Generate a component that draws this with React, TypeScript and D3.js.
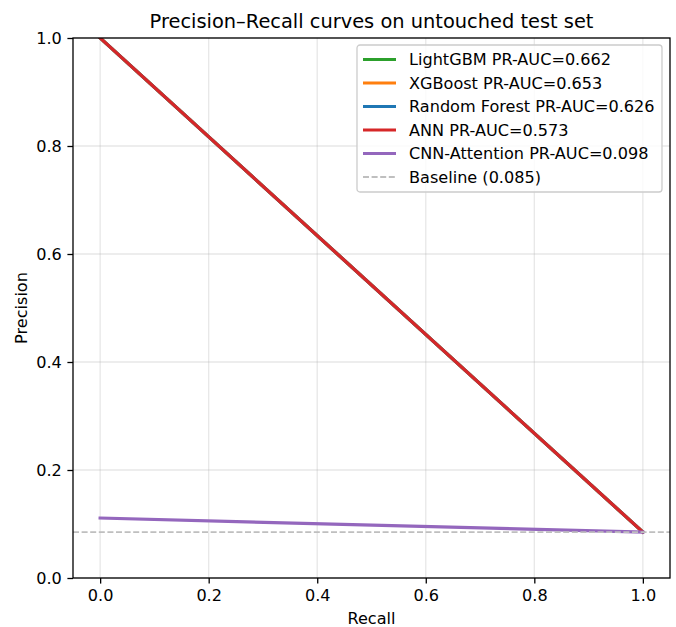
import React, { useEffect, useRef } from 'react';
import * as d3 from 'd3';

// curve points per model (recall, precision)
const recallPts = [0, 1];
const lightgbmPrecision = [1, 0.085];
const xgboostPrecision = [1, 0.085];
const rfPrecision = [1, 0.085];
const annPrecision = [1, 0.085];
const cnnPrecision = [0.111, 0.085];

const modelNames = ['LightGBM', 'XGBoost', 'Random Forest', 'ANN', 'CNN-Attention'];
const prAuc = ['0.662', '0.653', '0.626', '0.573', '0.098'];
const modelColors = ['#2ca02c', '#ff7f0e', '#1f77b4', '#d62728', '#9467bd'];
const baseline = 0.085;

const xTicks = [0, 0.2, 0.4, 0.6, 0.8, 1.0];
const yTicks = [0, 0.2, 0.4, 0.6, 0.8, 1.0];

const W = 676;
const H = 627;
const FONT = 'DejaVu Sans, sans-serif';
const FS = 16.1;

export default function App() {
    const ref = useRef<SVGSVGElement>(null);

    useEffect(() => {
        const svg = d3.select(ref.current);
        svg.selectAll('*').remove();

        const left = 73, right = 670, top = 38, bottom = 578;

        const x = d3.scaleLinear().domain([-0.05, 1.05]).range([left, right]);
        const y = d3.scaleLinear().domain([0, 1]).range([bottom, top]);

        svg.append('rect').attr('width', W).attr('height', H).attr('fill', 'white');

        // grid
        const grid = svg.append('g');
        xTicks.forEach(t => {
            grid.append('line')
                .attr('x1', x(t)).attr('x2', x(t))
                .attr('y1', top).attr('y2', bottom)
                .attr('stroke', '#b0b0b0').attr('stroke-opacity', 0.3).attr('stroke-width', 1.3);
        });
        yTicks.forEach(t => {
            grid.append('line')
                .attr('x1', left).attr('x2', right)
                .attr('y1', y(t)).attr('y2', y(t))
                .attr('stroke', '#b0b0b0').attr('stroke-opacity', 0.3).attr('stroke-width', 1.3);
        });

        const clip = svg.append('clipPath').attr('id', 'plot-clip');
        clip.append('rect').attr('x', left).attr('y', top).attr('width', right - left).attr('height', bottom - top);

        const plot = svg.append('g').attr('clip-path', 'url(#plot-clip)');

        const series = [lightgbmPrecision, xgboostPrecision, rfPrecision, annPrecision, cnnPrecision];
        const line = d3.line<number>()
            .x((_, i) => x(recallPts[i]))
            .y(d => y(d));

        series.forEach((s, i) => {
            plot.append('path')
                .datum(s)
                .attr('fill', 'none')
                .attr('stroke', modelColors[i])
                .attr('stroke-width', 3.2)
                .attr('stroke-linecap', 'square')
                .attr('d', line);
        });

        // baseline
        plot.append('line')
            .attr('x1', left).attr('x2', right)
            .attr('y1', y(baseline)).attr('y2', y(baseline))
            .attr('stroke', '#bfbfbf')
            .attr('stroke-width', 1.8)
            .attr('stroke-dasharray', '6,2.6');

        // axes
        const xAxis = svg.append('g')
            .attr('transform', `translate(0,${bottom})`)
            .call(d3.axisBottom(x).tickValues(xTicks).tickFormat(d3.format('.1f')).tickSize(5.6).tickPadding(5.6));
        const yAxis = svg.append('g')
            .attr('transform', `translate(${left},0)`)
            .call(d3.axisLeft(y).tickValues(yTicks).tickFormat(d3.format('.1f')).tickSize(5.6).tickPadding(5.6));
        [xAxis, yAxis].forEach(a => {
            a.select('.domain').remove();
            a.selectAll('text').attr('font-family', FONT).attr('font-size', FS).attr('fill', 'black');
            a.selectAll('line').attr('stroke', 'black').attr('stroke-width', 1.3);
        });

        svg.append('rect')
            .attr('x', left).attr('y', top)
            .attr('width', right - left).attr('height', bottom - top)
            .attr('fill', 'none').attr('stroke', 'black').attr('stroke-width', 1.3);

        // labels
        svg.append('text')
            .attr('x', (left + right) / 2).attr('y', 28)
            .attr('text-anchor', 'middle')
            .attr('font-family', FONT).attr('font-size', 19.4)
            .text('Precision\u2013Recall curves on untouched test set');
        svg.append('text')
            .attr('x', (left + right) / 2).attr('y', 624)
            .attr('text-anchor', 'middle')
            .attr('font-family', FONT).attr('font-size', FS)
            .text('Recall');
        svg.append('text')
            .attr('transform', `translate(27,${(top + bottom) / 2}) rotate(-90)`)
            .attr('text-anchor', 'middle')
            .attr('font-family', FONT).attr('font-size', FS)
            .text('Precision');

        // legend
        const lg = svg.append('g').attr('transform', 'translate(357,45)');
        lg.append('rect')
            .attr('x', 0).attr('y', 0).attr('width', 305).attr('height', 147)
            .attr('rx', 3)
            .attr('fill', 'white').attr('fill-opacity', 0.8)
            .attr('stroke', '#cccccc').attr('stroke-width', 1.3);
        const items = modelNames.map((n, i) => ({ label: `${n} PR-AUC=${prAuc[i]}`, color: modelColors[i], dash: false }));
        items.push({ label: `Baseline (${baseline.toFixed(3)})`, color: '#bfbfbf', dash: true });
        items.forEach((it, i) => {
            const cy = 14.5 + i * 23.5;
            lg.append('line')
                .attr('x1', 6).attr('x2', 39)
                .attr('y1', cy).attr('y2', cy)
                .attr('stroke', it.color)
                .attr('stroke-width', it.dash ? 1.8 : 3.2)
                .attr('stroke-dasharray', it.dash ? '6,2.6' : null);
            lg.append('text')
                .attr('x', 52).attr('y', cy + 5.8)
                .attr('font-family', FONT).attr('font-size', FS)
                .text(it.label);
        });
    }, []);

    return (
        <svg ref={ref} width={W} height={H} style={{ position: 'absolute', left: 0, top: 0 }}></svg>
    );
}
